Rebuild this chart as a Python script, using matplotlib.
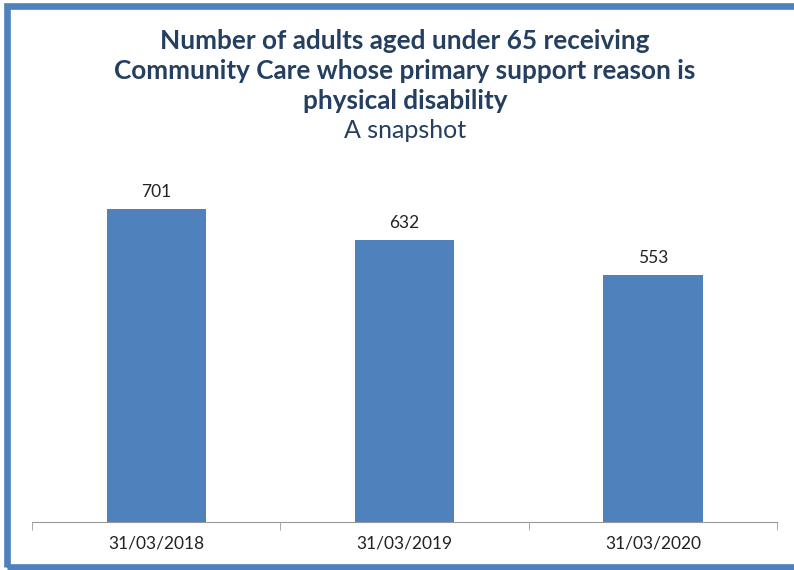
import matplotlib.pyplot as plt
from matplotlib.patches import Rectangle

categories = ["31/03/2018", "31/03/2019", "31/03/2020"]
values = [701, 632, 553]

title = "Number of adults aged under 65 receiving\nCommunity Care whose primary support reason is\nphysical disability"
subtitle = "A snapshot"

W, H = 794, 570
fig = plt.figure(figsize=(W / 100, H / 100), dpi=100)
plt.rcParams['font.family'] = ['Lato', 'DejaVu Sans']

# blue frame round the chart (right edge runs off the picture)
frame = Rectangle((7 / W, 3 / H), 1.2, (H - 9) / H, transform=fig.transFigure,
                  fill=False, edgecolor="#4F81BD", linewidth=4.8, clip_on=False)
fig.patches.append(frame)

# axes: baseline at y=522, from x=32 to x=777
ax = fig.add_axes([32 / W, (H - 522) / H, (777 - 32) / W, (522 - 165) / H])
x = range(len(categories))
bars = ax.bar(x, values, width=0.4, color="#4F81BD")
ax.set_xlim(-0.5, 2.5)
ax.set_ylim(0, 800)

for xi, v in zip(x, values):
    ax.text(xi, v + 20, str(v), ha="center", va="bottom", fontsize=12.5, color="#222222")

for s in ["top", "right", "left"]:
    ax.spines[s].set_visible(False)
ax.spines["bottom"].set_color("#999999")
ax.set_yticks([])
ax.set_xticks(list(x))
ax.set_xticklabels(categories, fontsize=12.5, color="#222222")
ax.tick_params(axis="x", length=0, pad=10)
ax.set_xticks([-0.5, 0.5, 1.5, 2.5], minor=True)
ax.tick_params(axis="x", which="minor", length=6, color="#999999")

fig.text(405 / W, 1 - 71 / H, title, ha="center", va="center", fontsize=18.8,
         fontweight="bold", color="#243F60", linespacing=1.3)
fig.text(405 / W, 1 - 130 / H, subtitle, ha="center", va="center", fontsize=18,
         color="#243F60")

fig.savefig("out.png", dpi=100)
